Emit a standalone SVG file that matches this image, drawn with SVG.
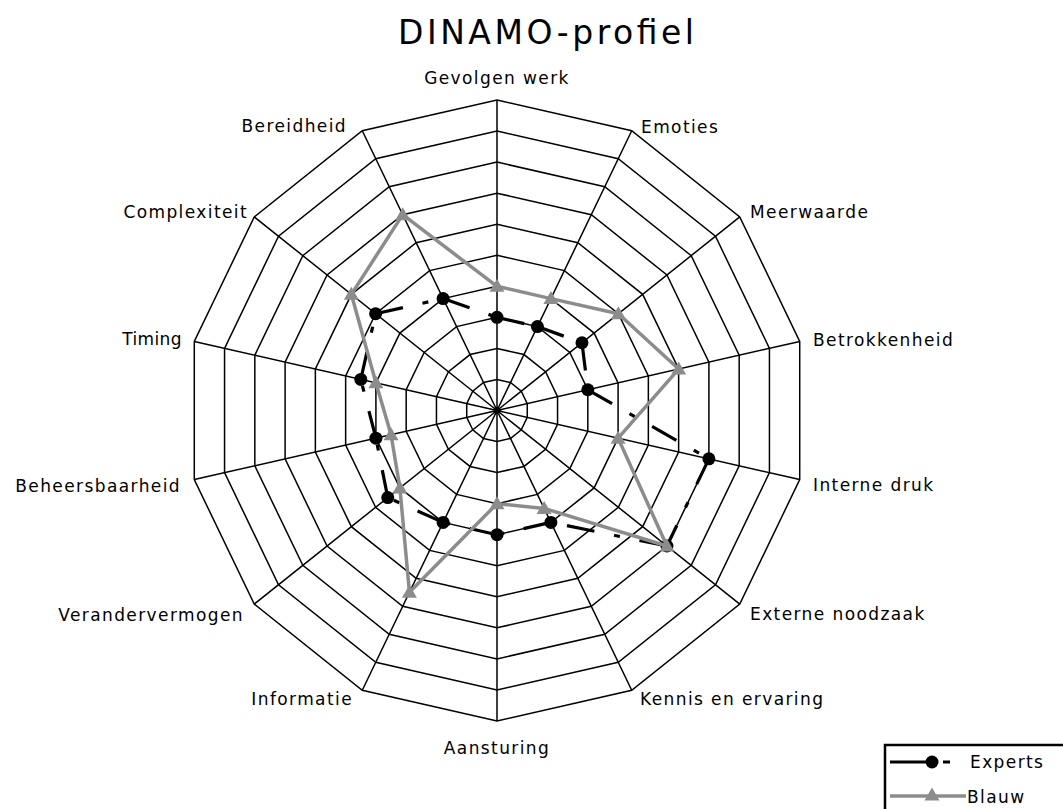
<svg xmlns="http://www.w3.org/2000/svg" xmlns:xlink="http://www.w3.org/1999/xlink" width="1063" height="809" viewBox="0 0 1063 809">
  <style>
    .bg { fill: #ffffff; }
    .ring { fill: none; stroke: #000; stroke-width: 1.5; vector-effect: non-scaling-stroke; }
    .spoke { fill: none; stroke: #000; stroke-width: 1.5; }
    .experts { fill: none; stroke: #000; stroke-width: 3.2; stroke-dasharray: 28 20 6 20; }
    .blauw { fill: none; stroke: #8c8c8c; stroke-width: 3.5; stroke-linejoin: round; }
    .dot { fill: #000; }
    .tri { fill: #8c8c8c; }
    .lbl { font-family: "DejaVu Sans", Verdana, sans-serif; font-size: 17px; letter-spacing: 1.4px; fill: #000; }
    .title { font-family: "DejaVu Sans", Verdana, sans-serif; font-size: 33px; fill: #000; }
    .legend-box { fill: #fff; stroke: #000; stroke-width: 2.5; }
  </style>
  <defs>
    <!-- unit 14-gon, axes clockwise from the top -->
    <polygon id="ring" class="ring" points="0,-1 0.43388,-0.90097 0.78183,-0.62349 0.97493,-0.22252 0.97493,0.22252 0.78183,0.62349 0.43388,0.90097 0,1 -0.43388,0.90097 -0.78183,0.62349 -0.97493,0.22252 -0.97493,-0.22252 -0.78183,-0.62349 -0.43388,-0.90097"/>
    <circle id="dot" class="dot" r="6.5"/>
    <path id="tri" class="tri" d="M0,-7.5 L7.5,5.5 L-7.5,5.5 Z"/>
  </defs>

  <rect class="bg" x="0" y="0" width="1063" height="809"/>

  <text id="title" class="title" x="398" y="44" textLength="296" lengthAdjust="spacing">DINAMO-profiel</text>

  <!-- radar grid: 10 rings of 31.05 px and 14 spokes -->
  <g id="grid" transform="translate(497 410.5)">
    <use xlink:href="#ring" transform="scale(31.05)"/>
    <use xlink:href="#ring" transform="scale(62.1)"/>
    <use xlink:href="#ring" transform="scale(93.15)"/>
    <use xlink:href="#ring" transform="scale(124.2)"/>
    <use xlink:href="#ring" transform="scale(155.25)"/>
    <use xlink:href="#ring" transform="scale(186.3)"/>
    <use xlink:href="#ring" transform="scale(217.35)"/>
    <use xlink:href="#ring" transform="scale(248.4)"/>
    <use xlink:href="#ring" transform="scale(279.45)"/>
    <use xlink:href="#ring" transform="scale(310.5)"/>
    <path class="spoke" d="M0,0L0,-310.5 M0,0L134.72,-279.75 M0,0L242.76,-193.59 M0,0L302.72,-69.09 M0,0L302.72,69.09 M0,0L242.76,193.59 M0,0L134.72,279.75 M0,0L0,310.5 M0,0L-134.72,279.75 M0,0L-242.76,193.59 M0,0L-302.72,69.09 M0,0L-302.72,-69.09 M0,0L-242.76,-193.59 M0,0L-134.72,-279.75"/>
  </g>

  <!-- series -->
  <g id="series" transform="translate(497 410.5)">
    <g id="experts">
      <path class="experts" d="M0,-93.15L40.42,-83.93 M40.42,-83.93L84.97,-67.76 M84.97,-67.76L90.81,-20.73 M90.81,-20.73L211.9,48.36 M211.9,48.36L169.93,135.52 M169.93,135.52L53.89,111.9 M53.89,111.9L0,124.2 M0,124.2L-53.89,111.9 M-53.89,111.9L-109.24,87.12 M-109.24,87.12L-121.09,27.64 M-121.09,27.64L-136.22,-31.09 M-136.22,-31.09L-121.38,-96.8 M-121.38,-96.8L-53.89,-111.9 M-53.89,-111.9L0,-93.15"/>
      <use xlink:href="#dot" x="0" y="-93.15"/>
      <use xlink:href="#dot" x="40.42" y="-83.93"/>
      <use xlink:href="#dot" x="84.97" y="-67.76"/>
      <use xlink:href="#dot" x="90.81" y="-20.73"/>
      <use xlink:href="#dot" x="211.9" y="48.36"/>
      <use xlink:href="#dot" x="169.93" y="135.52"/>
      <use xlink:href="#dot" x="53.89" y="111.9"/>
      <use xlink:href="#dot" x="0" y="124.2"/>
      <use xlink:href="#dot" x="-53.89" y="111.9"/>
      <use xlink:href="#dot" x="-109.24" y="87.12"/>
      <use xlink:href="#dot" x="-121.09" y="27.64"/>
      <use xlink:href="#dot" x="-136.22" y="-31.09"/>
      <use xlink:href="#dot" x="-121.38" y="-96.8"/>
      <use xlink:href="#dot" x="-53.89" y="-111.9"/>
    </g>
    <g id="blauw">
      <polygon class="blauw" points="0,-124.2 53.89,-111.9 121.38,-96.8 181.63,-41.46 121.09,27.64 169.93,135.52 47.15,97.91 0,93.15 -87.57,181.84 -97.1,77.44 -105.95,24.18 -121.09,-27.64 -145.65,-116.16 -94.3,-195.83"/>
      <use xlink:href="#tri" x="0" y="-124.2"/>
      <use xlink:href="#tri" x="53.89" y="-111.9"/>
      <use xlink:href="#tri" x="121.38" y="-96.8"/>
      <use xlink:href="#tri" x="181.63" y="-41.46"/>
      <use xlink:href="#tri" x="121.09" y="27.64"/>
      <use xlink:href="#tri" x="169.93" y="135.52"/>
      <use xlink:href="#tri" x="47.15" y="97.91"/>
      <use xlink:href="#tri" x="0" y="93.15"/>
      <use xlink:href="#tri" x="-87.57" y="181.84"/>
      <use xlink:href="#tri" x="-97.1" y="77.44"/>
      <use xlink:href="#tri" x="-105.95" y="24.18"/>
      <use xlink:href="#tri" x="-121.09" y="-27.64"/>
      <use xlink:href="#tri" x="-145.65" y="-116.16"/>
      <use xlink:href="#tri" x="-94.3" y="-195.83"/>
    </g>
  </g>

  <!-- axis labels -->
  <g id="labels" class="lbl">
    <text id="lbl-gevolgen" x="497" y="84" text-anchor="middle">Gevolgen werk</text>
    <text id="lbl-emoties" x="641" y="133">Emoties</text>
    <text id="lbl-meerwaarde" x="750" y="218">Meerwaarde</text>
    <text id="lbl-betrokkenheid" x="813" y="346">Betrokkenheid</text>
    <text id="lbl-interne" x="813" y="491">Interne druk</text>
    <text id="lbl-externe" x="750" y="620">Externe noodzaak</text>
    <text id="lbl-kennis" x="640" y="705">Kennis en ervaring</text>
    <text id="lbl-aansturing" x="497" y="754" text-anchor="middle">Aansturing</text>
    <text id="lbl-informatie" x="353" y="705" text-anchor="end">Informatie</text>
    <text id="lbl-verander" x="244" y="621" text-anchor="end">Verandervermogen</text>
    <text id="lbl-beheers" x="181" y="492" text-anchor="end">Beheersbaarheid</text>
    <text id="lbl-timing" x="182" y="345" text-anchor="end" style="letter-spacing:0.4px">Timing</text>
    <text id="lbl-complex" x="248" y="218" text-anchor="end">Complexiteit</text>
    <text id="lbl-bereid" x="347" y="132" text-anchor="end">Bereidheid</text>
  </g>

  <!-- legend -->
  <g id="legend">
    <rect class="legend-box" x="885" y="745" width="200" height="100"/>
    <path d="M890,762L928,762 M943,762L950,762" stroke="#000" stroke-width="3.2" fill="none"/>
    <use xlink:href="#dot" x="932" y="762"/>
    <text class="lbl" x="970" y="768">Experts</text>
    <path d="M890,796L966,796" stroke="#8c8c8c" stroke-width="3.5" fill="none"/>
    <use xlink:href="#tri" x="932" y="795"/>
    <text class="lbl" x="967" y="803">Blauw</text>
  </g>
</svg>
